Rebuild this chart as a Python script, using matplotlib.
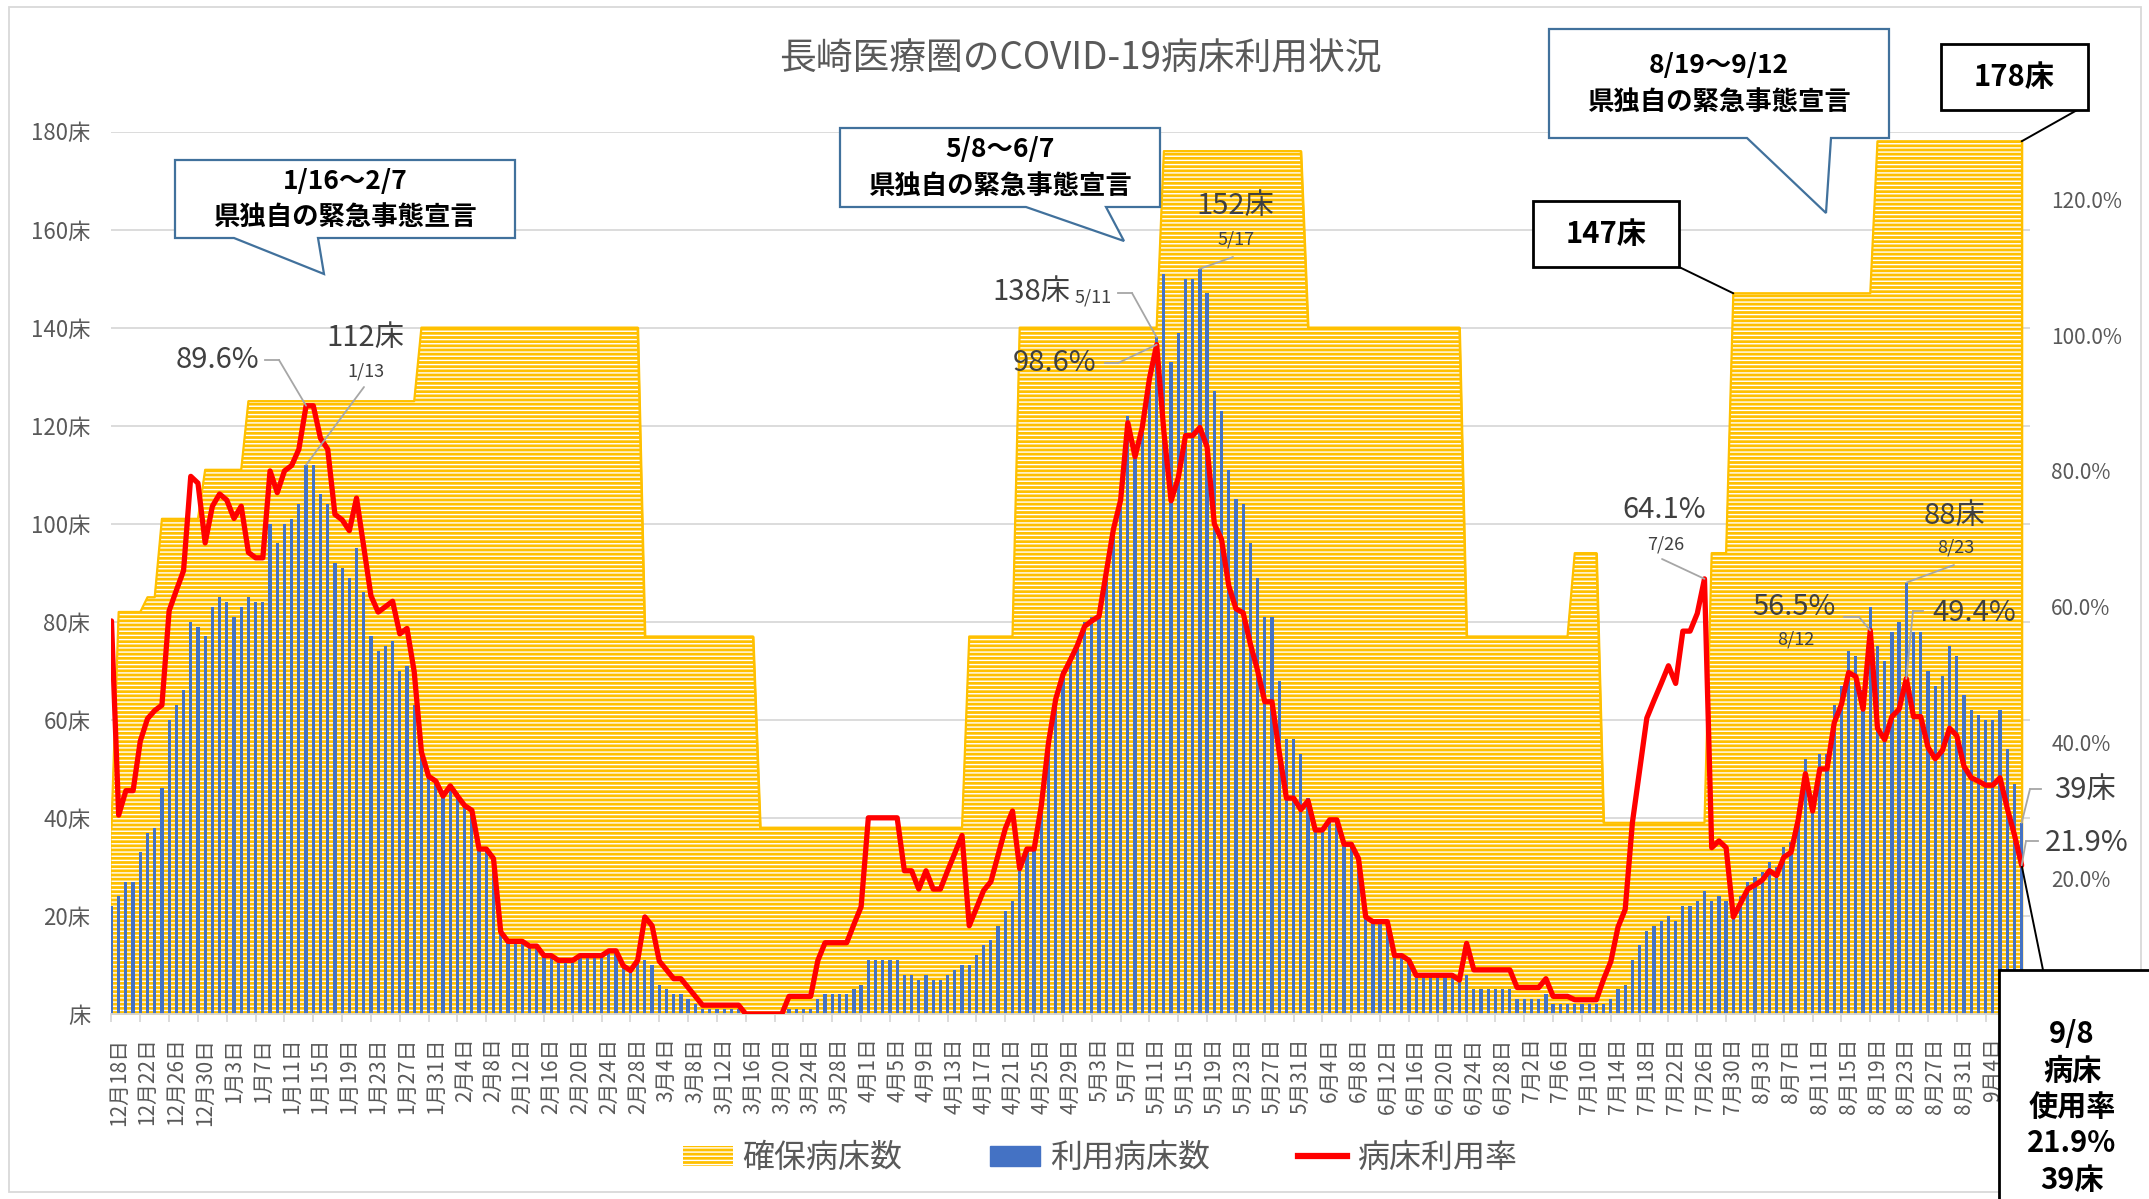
import numpy as np
import matplotlib
matplotlib.use('Agg')
import matplotlib.pyplot as plt
from matplotlib.patches import Polygon, Rectangle, Patch, ConnectionPatch
from matplotlib.lines import Line2D
from matplotlib.ticker import FixedLocator, FuncFormatter

plt.rcParams['font.family'] = ['Noto Sans CJK JP', 'DejaVu Sans']
plt.rcParams['hatch.linewidth'] = 1.0
plt.rcParams['hatch.color'] = 'white'

# ---------------- data (daily, 2020-12-17 .. 2021-09-08) ----------------
secured = [
    38,
    82, 82, 82, 82, 85, 85, 101, 101, 101,
    101, 101, 101, 111, 111, 111, 111, 111, 111, 125,
    125, 125, 125, 125, 125, 125, 125, 125, 125, 125,
    125, 125, 125, 125, 125, 125, 125, 125, 125, 125,
    125, 125, 125, 140, 140, 140, 140, 140, 140, 140,
    140, 140, 140, 140, 140, 140, 140, 140, 140, 140,
    140, 140, 140, 140, 140, 140, 140, 140, 140, 140,
    140, 140, 140, 140, 77, 77, 77, 77, 77, 77,
    77, 77, 77, 77, 77, 77, 77, 77, 77, 77,
    38, 38, 38, 38, 38, 38, 38, 38, 38, 38,
    38, 38, 38, 38, 38, 38, 38, 38, 38, 38,
    38, 38, 38, 38, 38, 38, 38, 38, 38, 77,
    77, 77, 77, 77, 77, 77, 140, 140, 140, 140,
    140, 140, 140, 140, 140, 140, 140, 140, 140, 140,
    140, 140, 140, 140, 140, 140, 176, 176, 176, 176,
    176, 176, 176, 176, 176, 176, 176, 176, 176, 176,
    176, 176, 176, 176, 176, 176, 140, 140, 140, 140,
    140, 140, 140, 140, 140, 140, 140, 140, 140, 140,
    140, 140, 140, 140, 140, 140, 140, 140, 77, 77,
    77, 77, 77, 77, 77, 77, 77, 77, 77, 77,
    77, 77, 77, 94, 94, 94, 94, 39, 39, 39,
    39, 39, 39, 39, 39, 39, 39, 39, 39, 39,
    39, 39, 94, 94, 94, 147, 147, 147, 147, 147,
    147, 147, 147, 147, 147, 147, 147, 147, 147, 147,
    147, 147, 147, 147, 147, 178, 178, 178, 178, 178,
    178, 178, 178, 178, 178, 178, 178, 178, 178, 178,
    178, 178, 178, 178, 178, 178,
]

used = [
    22, 24, 27, 27, 33, 37, 38, 46, 60, 63,
    66, 80, 79, 77, 83, 85, 84, 81, 83, 85,
    84, 84, 100, 96, 100, 101, 104, 112, 112, 106,
    104, 92, 91, 89, 95, 86, 77, 74, 75, 76,
    70, 71, 63, 54, 49, 48, 45, 47, 45, 43,
    42, 34, 34, 32, 17, 15, 15, 15, 14, 14,
    12, 12, 11, 11, 11, 12, 12, 12, 12, 13,
    13, 10, 9, 11, 11, 10, 6, 5, 4, 4,
    3, 2, 1, 1, 1, 1, 1, 1, 0, 0,
    0, 0, 0, 0, 1, 1, 1, 1, 3, 4,
    4, 4, 4, 5, 6, 11, 11, 11, 11, 11,
    8, 8, 7, 8, 7, 7, 8, 9, 10, 10,
    12, 14, 15, 18, 21, 23, 30, 34, 34, 43,
    56, 65, 70, 73, 76, 80, 81, 82, 91, 100,
    106, 122, 115, 121, 131, 138, 151, 133, 139, 150,
    150, 152, 147, 127, 123, 111, 105, 104, 96, 89,
    81, 81, 68, 56, 56, 53, 44, 38, 38, 40,
    40, 35, 35, 32, 20, 19, 19, 19, 12, 12,
    11, 8, 8, 8, 8, 8, 8, 7, 8, 5,
    5, 5, 5, 5, 5, 3, 3, 3, 3, 4,
    2, 2, 2, 2, 2, 2, 2, 2, 3, 5,
    6, 11, 14, 17, 18, 19, 20, 19, 22, 22,
    23, 25, 23, 24, 23, 21, 24, 27, 28, 29,
    31, 30, 34, 35, 42, 52, 44, 53, 53, 63,
    67, 74, 73, 66, 83, 75, 72, 78, 80, 88,
    78, 78, 70, 67, 69, 75, 73, 65, 62, 61,
    60, 60, 62, 54, 47, 39,
]

rate_pct = [
    57.9, 29.3, 32.9, 32.9, 40.2, 43.5, 44.7, 45.5, 59.4, 62.4,
    65.3, 79.2, 78.2, 69.4, 74.8, 76.6, 75.7, 73.0, 74.8, 68.0,
    67.2, 67.2, 80.0, 76.8, 80.0, 80.8, 83.2, 89.6, 89.6, 84.8,
    83.2, 73.6, 72.8, 71.2, 76.0, 68.8, 61.6, 59.2, 60.0, 60.8,
    56.0, 56.8, 50.4, 38.6, 35.0, 34.3, 32.1, 33.6, 32.1, 30.7,
    30.0, 24.3, 24.3, 22.9, 12.1, 10.7, 10.7, 10.7, 10.0, 10.0,
    8.6, 8.6, 7.9, 7.9, 7.9, 8.6, 8.6, 8.6, 8.6, 9.3,
    9.3, 7.1, 6.4, 7.9, 14.3, 13.0, 7.8, 6.5, 5.2, 5.2,
    3.9, 2.6, 1.3, 1.3, 1.3, 1.3, 1.3, 1.3, 0.0, 0.0,
    0.0, 0.0, 0.0, 0.0, 2.6, 2.6, 2.6, 2.6, 7.9, 10.5,
    10.5, 10.5, 10.5, 13.2, 15.8, 28.9, 28.9, 28.9, 28.9, 28.9,
    21.1, 21.1, 18.4, 21.1, 18.4, 18.4, 21.1, 23.7, 26.3, 13.0,
    15.6, 18.2, 19.5, 23.4, 27.3, 29.9, 21.4, 24.3, 24.3, 30.7,
    40.0, 46.4, 50.0, 52.1, 54.3, 57.1, 57.9, 58.6, 65.0, 71.4,
    75.7, 87.1, 82.1, 86.4, 93.6, 98.6, 85.8, 75.6, 79.0, 85.2,
    85.2, 86.4, 83.5, 72.2, 69.9, 63.1, 59.7, 59.1, 54.5, 50.6,
    46.0, 46.0, 38.6, 31.8, 31.8, 30.1, 31.4, 27.1, 27.1, 28.6,
    28.6, 25.0, 25.0, 22.9, 14.3, 13.6, 13.6, 13.6, 8.6, 8.6,
    7.9, 5.7, 5.7, 5.7, 5.7, 5.7, 5.7, 5.0, 10.4, 6.5,
    6.5, 6.5, 6.5, 6.5, 6.5, 3.9, 3.9, 3.9, 3.9, 5.2,
    2.6, 2.6, 2.6, 2.1, 2.1, 2.1, 2.1, 5.1, 7.7, 12.8,
    15.4, 28.2, 35.9, 43.6, 46.2, 48.7, 51.3, 48.7, 56.4, 56.4,
    59.0, 64.1, 24.5, 25.5, 24.5, 14.3, 16.3, 18.4, 19.0, 19.7,
    21.1, 20.4, 23.1, 23.8, 28.6, 35.4, 29.9, 36.1, 36.1, 42.9,
    45.6, 50.3, 49.7, 44.9, 56.5, 42.1, 40.4, 43.8, 44.9, 49.4,
    43.8, 43.8, 39.3, 37.6, 38.8, 42.1, 41.0, 36.5, 34.8, 34.3,
    33.7, 33.7, 34.8, 30.3, 26.4, 21.9,
]

# visible date labels (every 4th day from 12/18; the 9/8 label is hidden by the summary box)
tick_labels = [
    '12月18日', '12月22日', '12月26日', '12月30日', '1月3日', '1月7日', '1月11日',
    '1月15日', '1月19日', '1月23日', '1月27日', '1月31日', '2月4日', '2月8日',
    '2月12日', '2月16日', '2月20日', '2月24日', '2月28日', '3月4日', '3月8日',
    '3月12日', '3月16日', '3月20日', '3月24日', '3月28日', '4月1日', '4月5日',
    '4月9日', '4月13日', '4月17日', '4月21日', '4月25日', '4月29日', '5月3日',
    '5月7日', '5月11日', '5月15日', '5月19日', '5月23日', '5月27日', '5月31日',
    '6月4日', '6月8日', '6月12日', '6月16日', '6月20日', '6月24日', '6月28日',
    '7月2日', '7月6日', '7月10日', '7月14日', '7月18日', '7月22日', '7月26日',
    '7月30日', '8月3日', '8月7日', '8月11日', '8月15日', '8月19日', '8月23日',
    '8月27日', '8月31日', '9月4日',
]

legend_labels = ['確保病床数', '利用病床数', '病床利用率']
title = '長崎医療圏のCOVID-19病床利用状況'

# ---------------- figure ----------------
W, H = 2149, 1199
fig = plt.figure(figsize=(W / 100, H / 100), dpi=100)


def fx(px):
    return px / W


def fy(py):
    return 1 - py / H


ax_left, ax_right = 111.1, 2030.3
ax_top, ax_bot = 131.5, 1014.0
ax = fig.add_axes([fx(ax_left), fy(ax_bot), (ax_right - ax_left) / W, (ax_bot - ax_top) / H])

x = np.arange(len(used))
ax.set_xlim(-0.05, 266.2)
ax.set_ylim(0, 180)

YEL = '#FFC000'
ax.fill_between(x, 0, secured, facecolor=YEL, edgecolor=YEL, linewidth=1.5, zorder=1)
ax.fill_between(x, 0, secured, facecolor='none', edgecolor='white', hatch='----',
                linewidth=0, zorder=1.1)
ax.plot(x, secured, color=YEL, lw=1.6, zorder=1.2)
ax.plot([x[-1], x[-1]], [0, secured[-1]], color=YEL, lw=1.6, zorder=1.2)
ax.bar(x, used, width=0.45, color='#4472C4', zorder=2)

GRID = '#D9D9D9'
TXT = '#595959'
ax.set_axisbelow(True)
ax.yaxis.grid(True, color=GRID, lw=1.3)
ax.set_yticks(range(0, 181, 20))
ax.yaxis.set_major_formatter(FuncFormatter(lambda v, p: f'{int(v)}床' if v else '床'))
ax.tick_params(axis='y', length=0, pad=15, labelsize=16, labelcolor=TXT)

ax.xaxis.set_major_locator(FixedLocator(list(range(1, 1 + 4 * len(tick_labels), 4))))
ax.set_xticklabels(tick_labels, rotation=90)
ax.xaxis.set_minor_locator(FixedLocator(list(range(0, len(used), 4))))
ax.tick_params(axis='x', which='major', length=0, pad=17, labelsize=15, labelcolor=TXT)
ax.tick_params(axis='x', which='minor', length=6, width=1.3, color=GRID)
for s in ['top', 'left', 'right']:
    ax.spines[s].set_visible(False)
ax.spines['bottom'].set_color(GRID)
ax.spines['bottom'].set_linewidth(1.3)

ax2 = ax.twinx()
ax2.set_ylim(0, 1.3)
ax2.plot(x, np.array(rate_pct) / 100.0, color='#FF0000', lw=3.8,
         solid_joinstyle='round', solid_capstyle='round', zorder=3)
ax2.set_yticks([0.2, 0.4, 0.6, 0.8, 1.0, 1.2])
ax2.yaxis.set_major_formatter(FuncFormatter(lambda v, p: f'{v * 100:.1f}%'))
ax2.tick_params(axis='y', length=0, pad=15, labelsize=15, labelcolor=TXT)
for s in ax2.spines.values():
    s.set_visible(False)

# ---------------- title ----------------
fig.text(fx(1080), fy(59), title, ha='center', va='center', fontsize=26.5, color=TXT)

# ---------------- helpers ----------------
def leader(points_px, data_pt, trans, color='#A6A6A6', lw=1.3):
    if len(points_px) > 1:
        fig.add_artist(Line2D([fx(p[0]) for p in points_px], [fy(p[1]) for p in points_px],
                              transform=fig.transFigure, color=color, lw=lw, zorder=4))
    last = points_px[-1]
    con = ConnectionPatch(xyA=(fx(last[0]), fy(last[1])), coordsA=fig.transFigure,
                          xyB=data_pt, coordsB=trans, color=color, lw=lw, zorder=4)
    fig.add_artist(con)


def ftext(px, py, s, size, color='#404040', weight='normal', **kw):
    fig.text(fx(px), fy(py), s, ha='center', va='center', fontsize=size,
             color=color, fontweight=weight, zorder=7, **kw)


def callout(pts, cx, y1, y2, line1, line2):
    poly = Polygon([(fx(a), fy(b)) for a, b in pts], closed=True, transform=fig.transFigure,
                   facecolor='white', edgecolor='#41719C', lw=1.6, zorder=5)
    fig.add_artist(poly)
    ftext(cx, y1, line1, 19, color='black', weight='bold')
    ftext(cx, y2, line2, 19, color='black', weight='bold')


def box(x0, y0, x1, y1, lw=2.0):
    r = Rectangle((fx(x0), fy(y1)), fx(x1) - fx(x0), fy(y0) - fy(y1), transform=fig.transFigure,
                  facecolor='white', edgecolor='black', lw=lw, zorder=5)
    fig.add_artist(r)


# ---------------- callouts ----------------
callout([(175, 160), (515, 160), (515, 238), (318, 238), (324, 274), (234, 238), (175, 238)],
        345, 181, 217, '1/16～2/7', '県独自の緊急事態宣言')
callout([(840, 128), (1160, 128), (1160, 207), (1106, 207), (1124, 241), (1026, 207), (840, 207)],
        1000, 149, 186, '5/8～6/7', '県独自の緊急事態宣言')
callout([(1549, 29), (1889, 29), (1889, 138), (1831, 138), (1826, 213), (1747, 138), (1549, 138)],
        1719, 65, 102, '8/19～9/12', '県独自の緊急事態宣言')

# boxes for secured-bed levels
box(1533, 201, 1679, 267)
ftext(1606, 234, '147床', 21, color='black', weight='bold')
leader([(1675, 265)], (225, 147), ax.transData, color='black', lw=1.4)
box(1941, 44, 2088, 110)
ftext(2014, 77, '178床', 21, color='black', weight='bold')
leader([(2079, 109)], (265, 178), ax.transData, color='black', lw=1.4)

# bottom-right summary box
box(1999, 970, 2175, 1230)
leader([(2043, 970)], (265, 0.219), ax2.transData, color='black', lw=1.4)
fig.text(fx(2072), fy(1107), '9/8\n病床\n使用率\n21.9%\n39床', ha='center', va='center',
         multialignment='center', fontsize=21, fontweight='bold', color='black',
         linespacing=1.27, zorder=7)

# ---------------- data labels ----------------
ftext(217, 360, '89.6%', 21)
leader([(265, 360), (279, 360)], (27, 0.896), ax2.transData)
ftext(365, 338, '112床', 21)
ftext(366, 372, '1/13', 13)
leader([(364, 387)], (27, 112), ax.transData)

ftext(1031, 292, '138床', 21)
ftext(1093, 298, '5/11', 13)
leader([(1118, 293), (1132, 293)], (145, 138), ax.transData)
ftext(1055, 363, '98.6%', 21)
leader([(1105, 363), (1118, 363)], (145, 0.986), ax2.transData)

ftext(1235, 206, '152床', 21)
ftext(1236, 240, '5/17', 13)
leader([(1233, 257)], (151, 152), ax.transData)

ftext(1664, 510, '64.1%', 21)
ftext(1666, 544, '7/26', 13)
leader([(1662, 559)], (221, 0.641), ax2.transData)

ftext(1954, 516, '88床', 21)
ftext(1956, 548, '8/23', 13)
leader([(1954, 565)], (249, 88), ax.transData)

ftext(1794, 607, '56.5%', 21)
ftext(1796, 640, '8/12', 13)
leader([(1844, 617), (1859, 617)], (244, 0.565), ax2.transData)

ftext(1974, 613, '49.4%', 21)
leader([(1923, 611), (1913, 611)], (249, 0.494), ax2.transData)

ftext(2085, 790, '39床', 21)
leader([(2041, 789), (2030, 789)], (265, 39), ax.transData)
ftext(2087, 843, '21.9%', 21)
leader([(2038, 841), (2026, 841)], (265, 0.219), ax2.transData)

# ---------------- legend ----------------
handles = [Patch(facecolor=YEL, edgecolor='white', hatch='----', lw=0),
           Patch(facecolor='#4472C4', edgecolor='#4472C4'),
           Line2D([0], [0], color='#FF0000', lw=4.5)]
fig.legend(handles, legend_labels, loc='center', bbox_to_anchor=(fx(1100), fy(1158)), ncol=3,
           frameon=False, fontsize=23, handlelength=1.56, handleheight=0.6, handletextpad=0.3,
           columnspacing=2.75, labelcolor=TXT)

# outer chart border
fig.add_artist(Rectangle((fx(9), fy(1192)), fx(2141) - fx(9), fy(7) - fy(1192),
                         transform=fig.transFigure, fill=False, edgecolor=GRID, lw=1.3, zorder=0))

fig.savefig('out.png', dpi=100)
